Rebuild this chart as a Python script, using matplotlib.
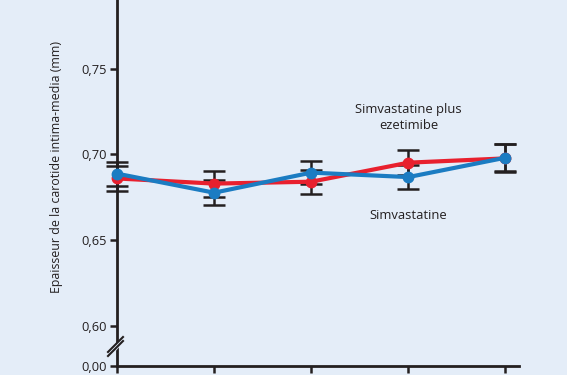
import matplotlib
matplotlib.use("Agg")
import matplotlib.pyplot as plt
import numpy as np
from matplotlib.lines import Line2D
from matplotlib.patches import Polygon

# Data
timepoints = [0, 1, 2, 3, 4]
simva_ezet = [0.6860, 0.6830, 0.6841, 0.6952, 0.6977]   # red
simva_ezet_err = [0.0072, 0.0076, 0.0070, 0.0071, 0.0082]
simva = [0.6888, 0.6777, 0.6894, 0.6868, 0.6981]        # blue
simva_err = [0.0070, 0.0072, 0.0068, 0.0072, 0.0078]
ytick_values = [0.00, 0.60, 0.65, 0.70, 0.75]
ytick_labels = ["0,00", "0,60", "0,65", "0,70", "0,75"]

BG = "#e4edf8"
RED = "#e8202e"
BLUE = "#1b7cc2"
INK = "#231f20"

plt.rcParams['font.family'] = ['Open Sans', 'DejaVu Sans']

fig = plt.figure(figsize=(5.67, 3.75), dpi=100, facecolor=BG)
ax = fig.add_axes([117/567, 9/375, 402/567, 366/375], facecolor=BG)

# broken axis: 0.00 shown below 0.60
break_pos = 0.5767
ylo, yhi = break_pos, 0.790
def ymap(v):
    return v if v >= 0.5 else break_pos

ax.set_xlim(0, 4.139)
ax.set_ylim(ylo, yhi)

for vals, errs, col, z in [(simva_ezet, simva_ezet_err, RED, 3), (simva, simva_err, BLUE, 4)]:
    ax.errorbar(timepoints, vals, yerr=errs, fmt='none', ecolor=INK, elinewidth=1.8,
                capsize=8, capthick=1.8, zorder=2, clip_on=False)
    ax.plot(timepoints, vals, color=col, lw=3, marker='o', ms=7.5, zorder=z, clip_on=False)

ax.set_yticks([ymap(v) for v in ytick_values])
ax.set_yticklabels(ytick_labels)
ax.set_xticks(timepoints)
ax.set_xticklabels([])

for s in ['top', 'right']:
    ax.spines[s].set_visible(False)
for s in ['left', 'bottom']:
    ax.spines[s].set_linewidth(2.0)
    ax.spines[s].set_color(INK)
ax.tick_params(axis='y', length=5, width=1.8, color=INK, labelsize=9.3, labelcolor=INK, pad=2)
ax.tick_params(axis='x', length=5, width=1.8, color=INK)

# axis break marks
fig_px = lambda x, y: (x/567, 1 - y/375)
gap = Polygon([fig_px(108, 353), fig_px(122, 338), fig_px(125, 341), fig_px(111, 356)],
              closed=True, transform=fig.transFigure, facecolor=BG, edgecolor='none', zorder=5)
fig.patches.append(gap)
for dy in (0, 4):
    x0, y0 = fig_px(108, 352 + dy)
    x1, y1 = fig_px(123, 337 + dy)
    fig.lines.append(Line2D([x0, x1], [y0, y1], transform=fig.transFigure, color=INK, lw=1.5, zorder=6))

fig.text(57/567, 1 - 167/375, "Epaisseur de la carotide intima-media (mm)", rotation=90,
         ha='center', va='center', fontsize=8.9, color=INK)

ax.text(3.0, 0.70 - (118 - 155)/1720, "Simvastatine plus\nezetimibe", ha='center', va='center',
        fontsize=9.4, color=INK, linespacing=1.3)
ax.text(3.0, 0.70 - (216.5 - 155)/1720, "Simvastatine", ha='center', va='center',
        fontsize=9.4, color=INK)

fig.savefig("out.png", dpi=100, facecolor=BG)
